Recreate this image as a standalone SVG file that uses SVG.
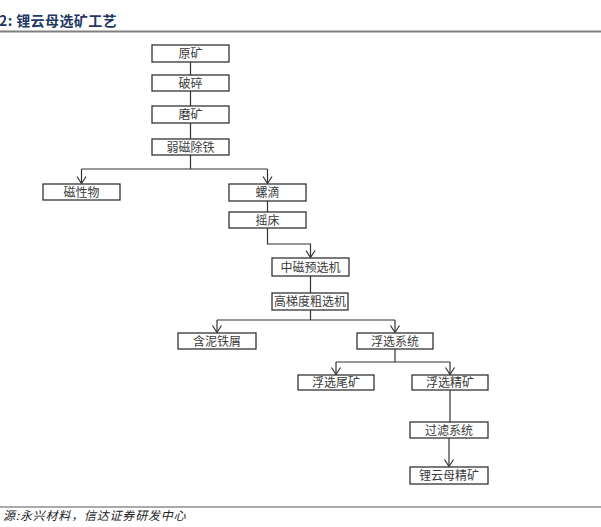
<svg xmlns="http://www.w3.org/2000/svg" width="601" height="527" viewBox="0 0 601 527">
<style>
.box{fill:#fff;stroke:#333;stroke-width:1.3}
.lbl{font-family:"Noto Sans CJK SC","Noto Sans",sans-serif;font-size:12px;fill:#3a3a3a;text-anchor:middle}
.con{fill:none;stroke:#333;stroke-width:1.2}
.title{font-family:"Noto Sans CJK SC",sans-serif;font-size:14px;font-weight:bold;fill:#1f3864;letter-spacing:0.4px}
.src{font-family:"Noto Sans CJK SC",sans-serif;font-size:12px;font-style:italic;fill:#222;letter-spacing:0.8px}
</style>
<defs>
<marker id="arr" markerUnits="userSpaceOnUse" markerWidth="12" markerHeight="12" viewBox="-8 -6 10 12" refX="0" refY="0" orient="auto">
<path d="M-7,-4.5 L0,0 L-7,4.5" fill="none" stroke="#333" stroke-width="1.2"/>
</marker>
</defs>
<rect width="601" height="527" fill="#fff"/>
<text class="title" x="-1" y="26">2: 锂云母选矿工艺</text>
<line x1="0" y1="31.5" x2="601" y2="31.5" stroke="#808080" stroke-width="2"/>
<line x1="0" y1="507" x2="601" y2="507" stroke="#555" stroke-width="1"/>
<text class="src" x="3" y="520">源:永兴材料，信达证券研发中心</text>

<g id="connectors">
<path class="con" d="M190.5 62V75M190.5 91V106M190.5 123V139M190.5 155V169M81.5 169H267.5"/>
<path class="con" d="M81.5 169V183.5" marker-end="url(#arr)"/>
<path class="con" d="M267.5 169V183.5" marker-end="url(#arr)"/>
<path class="con" d="M267.5 201V212"/>
<path class="con" d="M267.5 228V244H310.5V257.5" marker-end="url(#arr)"/>
<path class="con" d="M310.5 276V293M310.5 310V320M217 320H395"/>
<path class="con" d="M217 320V332.5" marker-end="url(#arr)"/>
<path class="con" d="M395 320V332.5" marker-end="url(#arr)"/>
<path class="con" d="M395 349V362M336 362H450"/>
<path class="con" d="M336 362V374.5" marker-end="url(#arr)"/>
<path class="con" d="M450 362V374.5" marker-end="url(#arr)"/>
<path class="con" d="M450 390V422"/>
<path class="con" d="M449 438V466.5" marker-end="url(#arr)"/>
</g>

<g id="n1"><rect class="box" x="152" y="45" width="77" height="17"/><text class="lbl" x="190.5" y="57.5">原矿</text></g>
<g id="n2"><rect class="box" x="152" y="75" width="77" height="16"/><text class="lbl" x="190.5" y="87.5">破碎</text></g>
<g id="n3"><rect class="box" x="152" y="106" width="77" height="17"/><text class="lbl" x="190.5" y="118.5">磨矿</text></g>
<g id="n4"><rect class="box" x="152" y="139" width="77" height="16"/><text class="lbl" x="190.5" y="151.5">弱磁除铁</text></g>
<g id="n5"><rect class="box" x="43" y="184" width="77" height="16"/><text class="lbl" x="81.5" y="196.5">磁性物</text></g>
<g id="n6"><rect class="box" x="229" y="184" width="77" height="17"/><text class="lbl" x="267.5" y="196.5">螺滴</text></g>
<g id="n7"><rect class="box" x="229" y="212" width="77" height="16"/><text class="lbl" x="267.5" y="224.5">摇床</text></g>
<g id="n8"><rect class="box" x="272" y="258" width="77" height="18"/><text class="lbl" x="310.5" y="271.5">中磁预选机</text></g>
<g id="n9"><rect class="box" x="272" y="293" width="76" height="17"/><text class="lbl" x="310" y="305.5">高梯度粗选机</text></g>
<g id="n10"><rect class="box" x="178" y="333" width="78" height="16"/><text class="lbl" x="217" y="345.5">含泥铁屑</text></g>
<g id="n11"><rect class="box" x="357" y="333" width="76" height="16"/><text class="lbl" x="395" y="345.5">浮选系统</text></g>
<g id="n12"><rect class="box" x="298" y="375" width="76" height="15"/><text class="lbl" x="336" y="386.5">浮选尾矿</text></g>
<g id="n13"><rect class="box" x="412" y="375" width="76" height="15"/><text class="lbl" x="450" y="386.5">浮选精矿</text></g>
<g id="n14"><rect class="box" x="410" y="422" width="78" height="16"/><text class="lbl" x="449" y="434.5">过滤系统</text></g>
<g id="n15"><rect class="box" x="410" y="467" width="78" height="17"/><text class="lbl" x="449" y="479.5">锂云母精矿</text></g>
</svg>
